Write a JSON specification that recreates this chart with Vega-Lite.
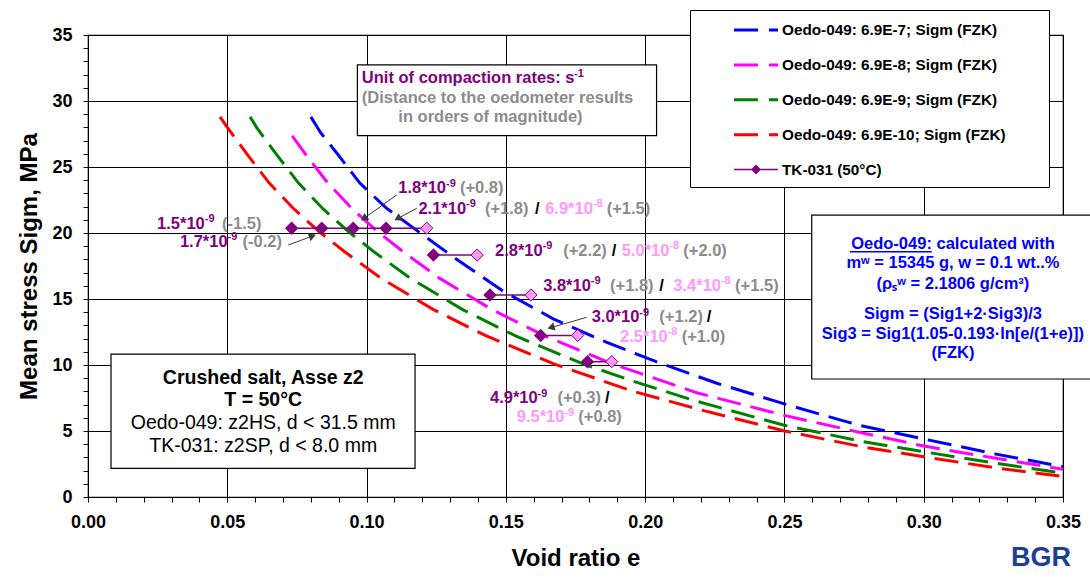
{
"$schema":"https://vega.github.io/schema/vega-lite/v6.json",
"width":975,"height":462,
"autosize":{"type":"none"},
"padding":{"left":88,"top":35,"right":27,"bottom":80},
"background":"white",
"config":{
 "font":"Liberation Sans",
 "view":{"stroke":"black","strokeWidth":1.2},
 "axis":{"domainColor":"black","tickColor":"black","tickSize":5,"tickWidth":1,"gridColor":"black","gridWidth":1,"labelColor":"black","labelFont":"Liberation Sans","labelFontSize":18,"labelFontWeight":"bold","labelFlush":false,"labelOverlap":false,"labelBound":false,"titleColor":"black","titleFont":"Liberation Sans","titleFontSize":24,"titleFontWeight":"bold"},
 "legend":{"orient":"none","legendX":602,"legendY":-25,"padding":9,"strokeColor":"black","fillColor":"white","symbolSize":484,"symbolStrokeWidth":0,"symbolOffset":35,"labelOffset":26,"rowPadding":14.9,"labelFont":"Liberation Sans","labelFontSize":15.3,"labelFontWeight":"bold","labelColor":"black","labelLimit":400,"titleOrient":"right","titlePadding":34,"titleFontSize":1}
},
"datasets":{
 "curves":[
  {"series":"Oedo-049: 6.9E-7; Sigm (FZK)","e":0.080,"s":28.8},
  {"series":"Oedo-049: 6.9E-7; Sigm (FZK)","e":0.0835,"s":27.6},
  {"series":"Oedo-049: 6.9E-7; Sigm (FZK)","e":0.0895,"s":26.0},
  {"series":"Oedo-049: 6.9E-7; Sigm (FZK)","e":0.0975,"s":23.8},
  {"series":"Oedo-049: 6.9E-7; Sigm (FZK)","e":0.107,"s":21.9},
  {"series":"Oedo-049: 6.9E-7; Sigm (FZK)","e":0.118,"s":20.2},
  {"series":"Oedo-049: 6.9E-7; Sigm (FZK)","e":0.131,"s":18.2},
  {"series":"Oedo-049: 6.9E-7; Sigm (FZK)","e":0.149,"s":15.6},
  {"series":"Oedo-049: 6.9E-7; Sigm (FZK)","e":0.167,"s":13.5},
  {"series":"Oedo-049: 6.9E-7; Sigm (FZK)","e":0.184,"s":11.9},
  {"series":"Oedo-049: 6.9E-7; Sigm (FZK)","e":0.204,"s":10.25},
  {"series":"Oedo-049: 6.9E-7; Sigm (FZK)","e":0.226,"s":8.6},
  {"series":"Oedo-049: 6.9E-7; Sigm (FZK)","e":0.250,"s":7.05},
  {"series":"Oedo-049: 6.9E-7; Sigm (FZK)","e":0.2765,"s":5.45},
  {"series":"Oedo-049: 6.9E-7; Sigm (FZK)","e":0.3005,"s":4.37},
  {"series":"Oedo-049: 6.9E-7; Sigm (FZK)","e":0.326,"s":3.25},
  {"series":"Oedo-049: 6.9E-7; Sigm (FZK)","e":0.350,"s":2.3},
  {"series":"Oedo-049: 6.9E-8; Sigm (FZK)","e":0.0733,"s":27.35},
  {"series":"Oedo-049: 6.9E-8; Sigm (FZK)","e":0.078,"s":26.0},
  {"series":"Oedo-049: 6.9E-8; Sigm (FZK)","e":0.086,"s":23.8},
  {"series":"Oedo-049: 6.9E-8; Sigm (FZK)","e":0.095,"s":21.8},
  {"series":"Oedo-049: 6.9E-8; Sigm (FZK)","e":0.104,"s":20.1},
  {"series":"Oedo-049: 6.9E-8; Sigm (FZK)","e":0.113,"s":18.6},
  {"series":"Oedo-049: 6.9E-8; Sigm (FZK)","e":0.126,"s":16.6},
  {"series":"Oedo-049: 6.9E-8; Sigm (FZK)","e":0.145,"s":14.2},
  {"series":"Oedo-049: 6.9E-8; Sigm (FZK)","e":0.164,"s":12.2},
  {"series":"Oedo-049: 6.9E-8; Sigm (FZK)","e":0.188,"s":10.1},
  {"series":"Oedo-049: 6.9E-8; Sigm (FZK)","e":0.2185,"s":7.9},
  {"series":"Oedo-049: 6.9E-8; Sigm (FZK)","e":0.2496,"s":6.2},
  {"series":"Oedo-049: 6.9E-8; Sigm (FZK)","e":0.278,"s":4.85},
  {"series":"Oedo-049: 6.9E-8; Sigm (FZK)","e":0.300,"s":3.86},
  {"series":"Oedo-049: 6.9E-8; Sigm (FZK)","e":0.326,"s":2.93},
  {"series":"Oedo-049: 6.9E-8; Sigm (FZK)","e":0.350,"s":2.1},
  {"series":"Oedo-049: 6.9E-9; Sigm (FZK)","e":0.0582,"s":28.8},
  {"series":"Oedo-049: 6.9E-9; Sigm (FZK)","e":0.0605,"s":28.0},
  {"series":"Oedo-049: 6.9E-9; Sigm (FZK)","e":0.0675,"s":26.0},
  {"series":"Oedo-049: 6.9E-9; Sigm (FZK)","e":0.0755,"s":23.8},
  {"series":"Oedo-049: 6.9E-9; Sigm (FZK)","e":0.0845,"s":21.8},
  {"series":"Oedo-049: 6.9E-9; Sigm (FZK)","e":0.0935,"s":20.1},
  {"series":"Oedo-049: 6.9E-9; Sigm (FZK)","e":0.1025,"s":18.6},
  {"series":"Oedo-049: 6.9E-9; Sigm (FZK)","e":0.1155,"s":16.6},
  {"series":"Oedo-049: 6.9E-9; Sigm (FZK)","e":0.1345,"s":14.2},
  {"series":"Oedo-049: 6.9E-9; Sigm (FZK)","e":0.1535,"s":12.2},
  {"series":"Oedo-049: 6.9E-9; Sigm (FZK)","e":0.1775,"s":10.1},
  {"series":"Oedo-049: 6.9E-9; Sigm (FZK)","e":0.1946,"s":8.85},
  {"series":"Oedo-049: 6.9E-9; Sigm (FZK)","e":0.2185,"s":7.25},
  {"series":"Oedo-049: 6.9E-9; Sigm (FZK)","e":0.2496,"s":5.45},
  {"series":"Oedo-049: 6.9E-9; Sigm (FZK)","e":0.278,"s":4.2},
  {"series":"Oedo-049: 6.9E-9; Sigm (FZK)","e":0.300,"s":3.43},
  {"series":"Oedo-049: 6.9E-9; Sigm (FZK)","e":0.326,"s":2.55},
  {"series":"Oedo-049: 6.9E-9; Sigm (FZK)","e":0.350,"s":1.8},
  {"series":"Oedo-049: 6.9E-10; Sigm (FZK)","e":0.0474,"s":28.8},
  {"series":"Oedo-049: 6.9E-10; Sigm (FZK)","e":0.050,"s":28.0},
  {"series":"Oedo-049: 6.9E-10; Sigm (FZK)","e":0.057,"s":26.0},
  {"series":"Oedo-049: 6.9E-10; Sigm (FZK)","e":0.065,"s":23.8},
  {"series":"Oedo-049: 6.9E-10; Sigm (FZK)","e":0.074,"s":21.8},
  {"series":"Oedo-049: 6.9E-10; Sigm (FZK)","e":0.083,"s":20.1},
  {"series":"Oedo-049: 6.9E-10; Sigm (FZK)","e":0.092,"s":18.6},
  {"series":"Oedo-049: 6.9E-10; Sigm (FZK)","e":0.105,"s":16.6},
  {"series":"Oedo-049: 6.9E-10; Sigm (FZK)","e":0.124,"s":14.2},
  {"series":"Oedo-049: 6.9E-10; Sigm (FZK)","e":0.143,"s":12.2},
  {"series":"Oedo-049: 6.9E-10; Sigm (FZK)","e":0.167,"s":10.1},
  {"series":"Oedo-049: 6.9E-10; Sigm (FZK)","e":0.195,"s":8.05},
  {"series":"Oedo-049: 6.9E-10; Sigm (FZK)","e":0.220,"s":6.6},
  {"series":"Oedo-049: 6.9E-10; Sigm (FZK)","e":0.250,"s":5.0},
  {"series":"Oedo-049: 6.9E-10; Sigm (FZK)","e":0.278,"s":3.8},
  {"series":"Oedo-049: 6.9E-10; Sigm (FZK)","e":0.300,"s":3.05},
  {"series":"Oedo-049: 6.9E-10; Sigm (FZK)","e":0.326,"s":2.2},
  {"series":"Oedo-049: 6.9E-10; Sigm (FZK)","e":0.350,"s":1.55}
 ],
 "tk":[
  {"row":1,"kind":"dark","e":0.0731,"s":20.36},
  {"row":1,"kind":"dark","e":0.0839,"s":20.36},
  {"row":1,"kind":"dark","e":0.0952,"s":20.36},
  {"row":1,"kind":"dark","e":0.1070,"s":20.36},
  {"row":1,"kind":"pink","e":0.1216,"s":20.36},
  {"row":2,"kind":"dark","e":0.1240,"s":18.33},
  {"row":2,"kind":"pink","e":0.1397,"s":18.33},
  {"row":3,"kind":"dark","e":0.1443,"s":15.30},
  {"row":3,"kind":"pink","e":0.1590,"s":15.30},
  {"row":4,"kind":"dark","e":0.1625,"s":12.24},
  {"row":4,"kind":"pink","e":0.1758,"s":12.24},
  {"row":5,"kind":"dark","e":0.1793,"s":10.25},
  {"row":5,"kind":"pink","e":0.1880,"s":10.25}
 ],
 "notes":[
  {"e":0.0248,"s":20.68,"t":"1.5*10","cat":"tk"},
  {"e":0.0481,"s":20.68,"t":"(-1.5)","cat":"dist"},
  {"e":0.0330,"s":19.34,"t":"1.7*10","cat":"tk"},
  {"e":0.0555,"s":19.34,"t":"(-0.2)","cat":"dist"},
  {"e":0.1114,"s":23.39,"t":"1.8*10","cat":"tk"},
  {"e":0.1335,"s":23.39,"t":"(+0.8)","cat":"dist"},
  {"e":0.1186,"s":21.82,"t":"2.1*10","cat":"tk"},
  {"e":0.1425,"s":21.82,"t":"(+1.8)","cat":"dist"},
  {"e":0.1605,"s":21.82,"t":"/","cat":"sep"},
  {"e":0.1641,"s":21.82,"t":"6.9*10","cat":"oedo"},
  {"e":0.1862,"s":21.82,"t":"(+1.5)","cat":"dist"},
  {"e":0.1461,"s":18.64,"t":"2.8*10","cat":"tk"},
  {"e":0.1706,"s":18.64,"t":"(+2.2)","cat":"dist"},
  {"e":0.1880,"s":18.64,"t":"/","cat":"sep"},
  {"e":0.1916,"s":18.64,"t":"5.0*10","cat":"oedo"},
  {"e":0.2137,"s":18.64,"t":"(+2.0)","cat":"dist"},
  {"e":0.1634,"s":15.98,"t":"3.8*10","cat":"tk"},
  {"e":0.1874,"s":15.98,"t":"(+1.8)","cat":"dist"},
  {"e":0.2051,"s":15.98,"t":"/","cat":"sep"},
  {"e":0.2101,"s":15.98,"t":"3.4*10","cat":"oedo"},
  {"e":0.2323,"s":15.98,"t":"(+1.5)","cat":"dist"},
  {"e":0.1808,"s":13.61,"t":"3.0*10","cat":"tk"},
  {"e":0.2051,"s":13.61,"t":"(+1.2)","cat":"dist"},
  {"e":0.2221,"s":13.61,"t":"/","cat":"sep"},
  {"e":0.1910,"s":12.14,"t":"2.5*10","cat":"oedo"},
  {"e":0.2131,"s":12.14,"t":"(+1.0)","cat":"dist"},
  {"e":0.1443,"s":7.48,"t":"4.9*10","cat":"tk"},
  {"e":0.1685,"s":7.48,"t":"(+0.3)","cat":"dist"},
  {"e":0.1856,"s":7.48,"t":"/","cat":"sep"},
  {"e":0.1539,"s":6.04,"t":"9.5*10","cat":"oedo"},
  {"e":0.1760,"s":6.04,"t":"(+0.8)","cat":"dist"},
  {"e":0.0983,"s":31.72,"t":"Unit of compaction rates: s","cat":"tk"},
  {"e":0.0983,"s":30.25,"t":"(Distance to the oedometer results","cat":"dist"},
  {"e":0.1114,"s":28.81,"t":"in orders of magnitude)","cat":"dist"}
 ],
 "sups":[
  {"e":0.0419,"s":21.03,"t":"-9","cat":"tk"},
  {"e":0.0501,"s":19.69,"t":"-9","cat":"tk"},
  {"e":0.1285,"s":23.74,"t":"-9","cat":"tk"},
  {"e":0.1357,"s":22.17,"t":"-9","cat":"tk"},
  {"e":0.1812,"s":22.17,"t":"-8","cat":"oedo"},
  {"e":0.1632,"s":18.99,"t":"-9","cat":"tk"},
  {"e":0.2087,"s":18.99,"t":"-8","cat":"oedo"},
  {"e":0.1805,"s":16.33,"t":"-9","cat":"tk"},
  {"e":0.2272,"s":16.33,"t":"-8","cat":"oedo"},
  {"e":0.1979,"s":13.96,"t":"-9","cat":"tk"},
  {"e":0.2081,"s":12.49,"t":"-8","cat":"oedo"},
  {"e":0.1614,"s":7.83,"t":"-9","cat":"tk"},
  {"e":0.1710,"s":6.39,"t":"-9","cat":"oedo"},
  {"e":0.1745,"s":32.07,"t":"-1","cat":"tk"}
 ],
 "boxes":[
  {"box":"unit","e":0.0967,"e1":0.2041,"s":27.37,"s1":32.73},
  {"box":"oedo","e":0.2598,"e1":0.3604,"s":8.94,"s1":21.36},
  {"box":"sample","e":0.00826,"e1":0.1174,"s":2.17,"s1":10.83}
 ],
 "underline":[{"e":0.2735,"e1":0.3029,"s":18.58}],
 "oedo":[
  {"e":0.3105,"s":19.17,"t":"Oedo-049: calculated with"},
  {"e":0.3105,"s":17.70,"t":"mʷ = 15345 g,  w = 0.1 wt..%"},
  {"e":0.3105,"s":16.14,"t":"(ρₛʷ = 2.1806 g/cm³)"},
  {"e":0.3105,"s":13.84,"t":"Sigm = (Sig1+2·Sig3)/3"},
  {"e":0.3105,"s":12.35,"t":"Sig3 = Sig1(1.05-0.193·ln[e/(1+e)])"},
  {"e":0.3105,"s":10.89,"t":"(FZK)"}
 ],
 "sampleHead":[
  {"e":0.0629,"s":8.99,"t":"Crushed salt, Asse z2"},
  {"e":0.0629,"s":7.35,"t":"T = 50°C"}
 ],
 "sampleBody":[
  {"e":0.0629,"s":5.58,"t":"Oedo-049: z2HS, d < 31.5 mm"},
  {"e":0.0629,"s":3.86,"t":"TK-031: z2SP, d < 8.0 mm"}
 ],
 "arrows":[
  {"id":"a17","e":0.0719,"s":19.09,"e2":0.0802,"s2":19.74},
  {"id":"a18","e":0.1108,"s":22.88,"e2":0.0994,"s2":21.16},
  {"id":"a21","e":0.1180,"s":21.87,"e2":0.1115,"s2":21.13},
  {"id":"a30","e":0.1790,"s":13.61,"e2":0.1666,"s2":12.86}
 ],
 "heads":[
  {"id":"a17","e":0.0802,"s":19.74},
  {"id":"a18","e":0.0994,"s":21.16},
  {"id":"a21","e":0.1115,"s":21.13},
  {"id":"a30","e":0.1666,"s":12.86}
 ],
 "logo":[{"e":0.3421,"s":-4.62,"t":"BGR"}]
},
"encoding":{
 "x":{"field":"e","type":"quantitative","scale":{"domain":[0,0.35],"nice":false,"zero":false},
   "axis":{"title":"Void ratio e","values":[0,0.01,0.02,0.03,0.04,0.05,0.06,0.07,0.08,0.09,0.1,0.11,0.12,0.13,0.14,0.15,0.16,0.17,0.18,0.19,0.2,0.21,0.22,0.23,0.24,0.25,0.26,0.27,0.28,0.29,0.3,0.31,0.32,0.33,0.34,0.35],
     "labelExpr":"round(datum.value*100)%5==0 ? format(datum.value,'.2f') : ''",
     "gridOpacity":{"condition":{"test":"round(datum.value*100)%5==0","value":1},"value":0},
     "labelPadding":11,"titlePadding":15}},
 "y":{"field":"s","type":"quantitative","scale":{"domain":[0,35],"nice":false,"zero":true},
   "axis":{"title":"Mean stress Sigm, MPa","values":[0,1,2,3,4,5,6,7,8,9,10,11,12,13,14,15,16,17,18,19,20,21,22,23,24,25,26,27,28,29,30,31,32,33,34,35],
     "labelExpr":"datum.value%5==0 ? datum.label : ''",
     "gridOpacity":{"condition":{"test":"datum.value%5==0","value":1},"value":0},
     "labelPadding":11,"titlePadding":10}}
},
"layer":[
 {"data":{"name":"curves"},
  "mark":{"type":"line","strokeWidth":3,"strokeDash":[24,10],"strokeCap":"butt"},
  "encoding":{
   "stroke":{"field":"series","type":"nominal",
     "scale":{"domain":["Oedo-049: 6.9E-7; Sigm (FZK)","Oedo-049: 6.9E-8; Sigm (FZK)","Oedo-049: 6.9E-9; Sigm (FZK)","Oedo-049: 6.9E-10; Sigm (FZK)"],"range":["#0000ff","#ff00ff","#008000","#ff0000"]},
     "legend":null}
  }},
 {"data":{"name":"tk"},
  "mark":{"type":"line","color":"#800080","strokeWidth":1.5},
  "encoding":{"detail":{"field":"row","type":"nominal"}}},
 {"data":{"name":"tk"},
  "transform":[{"filter":"datum.kind=='dark'"}],
  "mark":{"type":"point","shape":"diamond","filled":true,"color":"#800080","size":180,"opacity":1},
  "encoding":{}},
 {"data":{"name":"tk"},
  "transform":[{"filter":"datum.kind=='pink'"}],
  "mark":{"type":"point","shape":"diamond","filled":true,"fill":"#ff99ff","stroke":"#800080","strokeWidth":1,"size":150,"opacity":1},
  "encoding":{}},
 {"data":{"name":"curves"},
  "transform":[{"filter":"false"}],
  "mark":{"type":"point","filled":true,"opacity":1},
  "encoding":{
   "color":{"field":"series","type":"nominal",
     "scale":{"domain":["Oedo-049: 6.9E-7; Sigm (FZK)","Oedo-049: 6.9E-8; Sigm (FZK)","Oedo-049: 6.9E-9; Sigm (FZK)","Oedo-049: 6.9E-10; Sigm (FZK)","TK-031 (50°C)"],"range":["#0000ff","#ff00ff","#008000","#ff0000","#800080"]},
     "legend":{"title":" "}},
   "shape":{"field":"series","type":"nominal",
     "scale":{"domain":["Oedo-049: 6.9E-7; Sigm (FZK)","Oedo-049: 6.9E-8; Sigm (FZK)","Oedo-049: 6.9E-9; Sigm (FZK)","Oedo-049: 6.9E-10; Sigm (FZK)","TK-031 (50°C)"],
       "range":["M-1,-0.136H1.18V0.136H-1ZM2.18,-0.136H3V0.136H2.18Z","M-1,-0.136H1.18V0.136H-1ZM2.18,-0.136H3V0.136H2.18Z","M-1,-0.136H1.18V0.136H-1ZM2.18,-0.136H3V0.136H2.18Z","M-1,-0.136H1.18V0.136H-1ZM2.18,-0.136H3V0.136H2.18Z","M-1,-0.07H3V0.07H-1ZM0.545,0L1,-0.455L1.455,0L1,0.455Z"]},
     "legend":{"title":" "}}
  }},
 {"data":{"name":"boxes"},
  "mark":{"type":"rect","fill":"white","stroke":"black","strokeWidth":1.2},
  "encoding":{"x2":{"field":"e1"},"y2":{"field":"s1"}}},
 {"data":{"name":"underline"},
  "mark":{"type":"rule","color":"#0000ff","strokeWidth":1.5},
  "encoding":{"x2":{"field":"e1"}}},
 {"data":{"name":"notes"},
  "mark":{"type":"text","align":"left","baseline":"middle","fontSize":16.5,"fontWeight":"bold","font":"Liberation Sans"},
  "encoding":{
   "text":{"field":"t"},
   "fill":{"field":"cat","type":"nominal","scale":{"domain":["tk","dist","sep","oedo"],"range":["#800080","#8c8c8c","#000000","#ff99ff"]},"legend":null}
  }},
 {"data":{"name":"sups"},
  "mark":{"type":"text","align":"left","baseline":"middle","fontSize":11,"fontWeight":"bold","font":"Liberation Sans"},
  "encoding":{
   "text":{"field":"t"},
   "fill":{"field":"cat","type":"nominal","scale":{"domain":["tk","dist","sep","oedo"],"range":["#800080","#8c8c8c","#000000","#ff99ff"]},"legend":null}
  }},
 {"data":{"name":"oedo"},
  "mark":{"type":"text","align":"center","baseline":"middle","fontSize":16.5,"fontWeight":"bold","color":"#0000ff","font":"Liberation Sans"},
  "encoding":{"text":{"field":"t"}}},
 {"data":{"name":"sampleHead"},
  "mark":{"type":"text","align":"center","baseline":"middle","fontSize":19.5,"fontWeight":"bold","color":"black","font":"Liberation Sans"},
  "encoding":{"text":{"field":"t"}}},
 {"data":{"name":"sampleBody"},
  "mark":{"type":"text","align":"center","baseline":"middle","fontSize":19.5,"fontWeight":"normal","color":"black","font":"Liberation Sans"},
  "encoding":{"text":{"field":"t"}}},
 {"data":{"name":"arrows"},
  "mark":{"type":"rule","color":"#3a3a3a","strokeWidth":1},
  "encoding":{"x2":{"field":"e2"},"y2":{"field":"s2"}}},
 {"data":{"name":"heads"},
  "mark":{"type":"point","shape":"triangle","filled":true,"color":"#3a3a3a","size":70,"opacity":1},
  "encoding":{
   "angle":{"field":"id","type":"nominal","scale":{"type":"ordinal","domain":["a17","a18","a21","a30"],"range":[69.4,234.5,241.7,254]},"legend":null}
  }},
 {"data":{"name":"logo"},
  "mark":{"type":"text","align":"center","baseline":"middle","fontSize":27,"fontWeight":"bold","color":"#1c3f94","font":"Liberation Sans"},
  "encoding":{"text":{"field":"t"}}}
]
}
